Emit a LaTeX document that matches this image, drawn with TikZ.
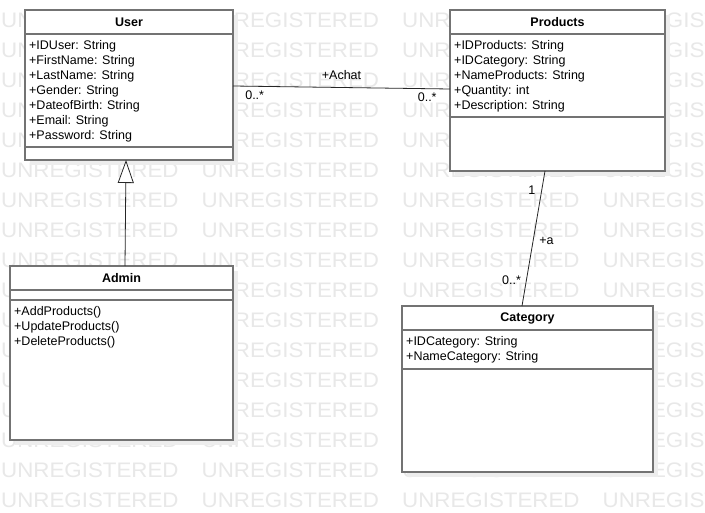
\documentclass[tikz,border=0pt]{standalone}
\usepackage{fontspec}
\setmainfont{Liberation Sans}
\usetikzlibrary{positioning, arrows.meta, shadows}

\tikzset{
  compart/.style={draw=black!55, line width=1.1pt, fill=white, rectangle, inner sep=0pt, outer sep=0pt,
    drop shadow={shadow xshift=5pt, shadow yshift=-5pt, fill=black!7, opacity=1}},
  classtitle/.style={font=\fontsize{12.5}{15}\selectfont\bfseries},
  members/.style={anchor=north west, align=left, inner xsep=4pt, inner ysep=6pt, font=\fontsize{12.5}{15}\selectfont},
  assoc/.style={draw=black!85, line width=0.8pt},
  lbl/.style={font=\fontsize{12.5}{15}\selectfont, inner sep=2pt},
  watermark/.style={text=black!9, font=\fontsize{21}{21}\selectfont, xscale=1.063, inner sep=0pt, anchor=west}
}

\begin{document}
\begin{tikzpicture}[x=1pt, y=-1pt]
      \useasboundingbox (0,0) rectangle (705,513);
      \fill[white] (0,0) rectangle (705,513);

      % Watermark
      \foreach \r in {0,...,16}
        \foreach \c in {0,...,3}
          \node [watermark] (wm-\r-\c) at (1+200.5*\c, 20+30*\r) {UNREGISTERED};

      % User
      \node [compart, classtitle, anchor=north west, minimum width=208pt, minimum height=24pt] (user) at (25,10) {User};
      \node [compart, minimum width=208pt, minimum height=113pt, below=0pt of user] (user-attr) {};
      \node [compart, minimum width=208pt, minimum height=13pt, below=0pt of user-attr] (user-ops) {};
      \node [members] (user-list) at (user-attr.north west) {
        +IDUser: String\\
        +FirstName: String\\
        +LastName: String\\
        +Gender: String\\
        +DateofBirth: String\\
        +Email: String\\
        +Password: String
      };

      % Products
      \node [compart, classtitle, anchor=north west, minimum width=215pt, minimum height=24pt] (products) at (450,10) {Products};
      \node [compart, minimum width=215pt, minimum height=83pt, below=0pt of products] (products-attr) {};
      \node [compart, minimum width=215pt, minimum height=54pt, below=0pt of products-attr] (products-ops) {};
      \node [members] (products-list) at (products-attr.north west) {
        +IDProducts: String\\
        +IDCategory: String\\
        +NameProducts: String\\
        +Quantity: int\\
        +Description: String
      };

      % Admin
      \node [compart, classtitle, anchor=north west, minimum width=223pt, minimum height=24pt] (admin) at (10,266) {Admin};
      \node [compart, minimum width=223pt, minimum height=10pt, below=0pt of admin] (admin-attr) {};
      \node [compart, minimum width=223pt, minimum height=140pt, below=0pt of admin-attr] (admin-ops) {};
      \node [members] (admin-list) at (admin-ops.north west) {
        +AddProducts()\\
        +UpdateProducts()\\
        +DeleteProducts()
      };

      % Category
      \node [compart, classtitle, anchor=north west, minimum width=251pt, minimum height=24pt] (category) at (402,306) {Category};
      \node [compart, minimum width=251pt, minimum height=39pt, below=0pt of category] (category-attr) {};
      \node [compart, minimum width=251pt, minimum height=103pt, below=0pt of category-attr] (category-ops) {};
      \node [members] (category-list) at (category-attr.north west) {
        +IDCategory: String\\
        +NameCategory: String
      };

      % Associations
      \draw [assoc] ([yshift=-52pt]user-attr.north east) -- node [lbl, above=5pt] {+Achat}
        node [lbl, pos=0.1, below=2pt] {0..*} node [lbl, pos=0.895, below=2pt] {0..*}
        ([yshift=-55pt]products-attr.north west);
      \draw [assoc] ([xshift=-12.5pt]products-ops.south) -- node [lbl, pos=0.14, left=4pt] {1}
        node [lbl, pos=0.52, right=4pt] {+a} node [lbl, pos=0.81, left=3pt] {0..*}
        ([xshift=-5.5pt]category.north);

      % Generalization
      \draw [assoc, -{Triangle[open, length=23pt, width=16pt, fill=white]}] ([xshift=3.5pt]admin.north) -- ([xshift=-3pt]user-ops.south);
    \end{tikzpicture}
\end{document}
